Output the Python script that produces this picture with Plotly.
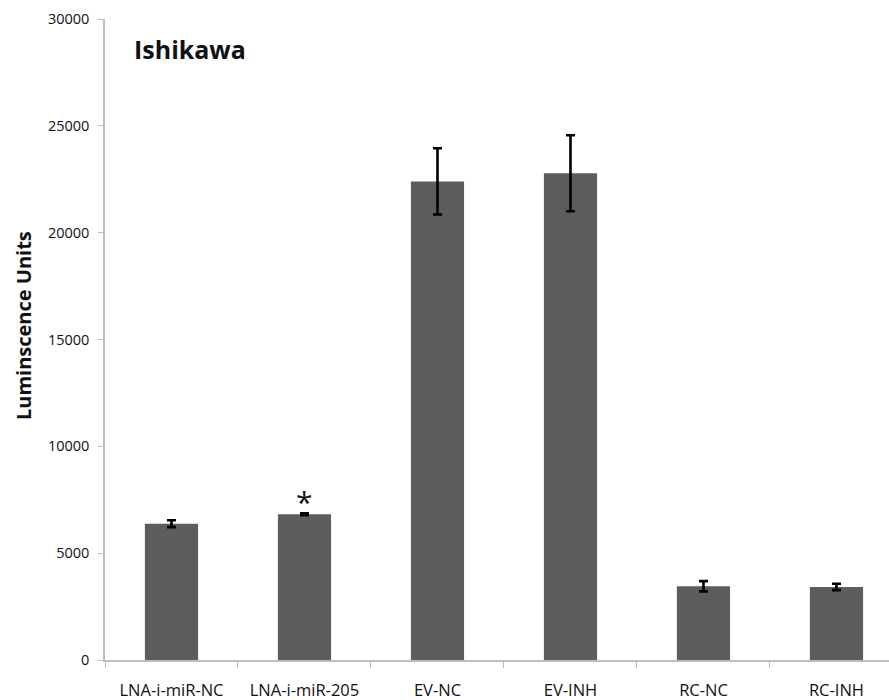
import plotly.graph_objects as go

# Luciferase readout per transfection condition
categories = ["LNA-i-miR-NC", "LNA-i-miR-205", "EV-NC", "EV-INH", "RC-NC", "RC-INH"]
luminescence = [6380, 6820, 22400, 22780, 3450, 3420]
errors = [160, 40, 1550, 1780, 240, 150]
y_ticks = [0, 5000, 10000, 15000, 20000, 25000, 30000]
y_tick_labels = [str(v) for v in y_ticks]
significant = ["LNA-i-miR-205"]

FONT = "Open Sans"
AXIS_GREY = "#bdbdbd"

fig = go.Figure()
fig.add_trace(go.Bar(
    x=categories,
    y=luminescence,
    width=0.4,
    marker=dict(color="#5b5d5e", line=dict(width=0)),
    error_y=dict(type="data", array=errors, visible=True,
                 color="#000000", thickness=2.6, width=4.5),
    showlegend=False,
))

for cat in significant:
    i = categories.index(cat)
    fig.add_annotation(x=cat, y=luminescence[i] + errors[i], text="*",
                       showarrow=False, yanchor="bottom", yshift=-11,
                       font=dict(family=FONT, size=30, color="#111111"))

fig.add_annotation(xref="paper", yref="paper", x=0.035, y=0.953,
                   xanchor="left", yanchor="middle", text="<b>Ishikawa</b>",
                   showarrow=False,
                   font=dict(family=FONT, size=25, color="#111111"))

# vertical axis title, set slightly above the plot's mid-height
fig.add_annotation(xref="paper", yref="paper", x=0, y=0.521, xshift=-82,
                   xanchor="center", yanchor="middle", textangle=-90,
                   text="<b>Luminscence Units</b>", showarrow=False,
                   font=dict(family=FONT, size=20, color="#111111"))

fig.update_layout(
    width=889, height=700,
    margin=dict(l=105, r=0, t=19, b=40),
    plot_bgcolor="white", paper_bgcolor="white",
    bargap=0.6,
)
fig.update_xaxes(
    range=[-0.5, 5.395],
    showline=True, linecolor=AXIS_GREY, linewidth=1.5,
    ticks="outside", tickson="boundaries", ticklen=6, tickcolor=AXIS_GREY,
    ticklabelstandoff=14,
    tickfont=dict(family=FONT, size=16.5, color="#111111"),
    showgrid=False, zeroline=False,
)
fig.update_yaxes(
    range=[0, 30000], tickvals=y_ticks, ticktext=y_tick_labels,
    showline=True, linecolor=AXIS_GREY, linewidth=1.5,
    ticks="outside", ticklen=5, tickcolor=AXIS_GREY,
    ticklabelstandoff=6,
    tickfont=dict(family=FONT, size=14.5, color="#111111"),
    showgrid=False, zeroline=False,
)

fig.write_html("out.html")
